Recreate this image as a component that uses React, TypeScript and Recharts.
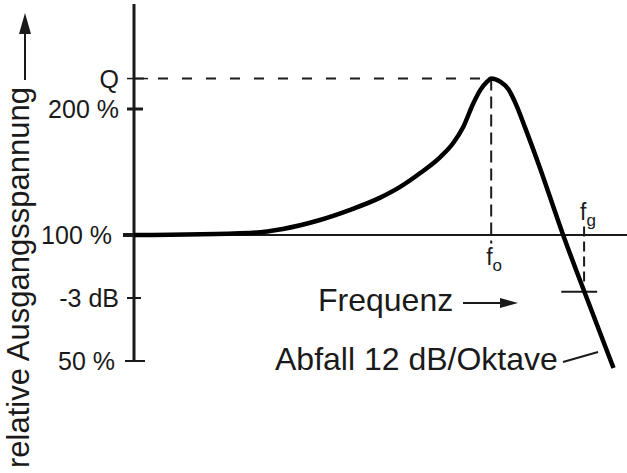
import React from 'react';
import { LineChart, Line, XAxis, YAxis, ReferenceLine } from 'recharts';

// frequency relative to f0 (log axis) and relative output in dB
const freqRatio = [0.1, 0.211, 0.261, 0.326, 0.403, 0.489, 0.556, 0.633, 0.72, 0.783, 0.835, 0.89, 0.932, 0.974, 1.0, 1.06, 1.116, 1.175, 1.245, 1.363, 1.59, 1.82, 2.2];
const gainDb = [0, 0.1, 0.29, 0.68, 1.2, 1.78, 2.29, 2.95, 3.71, 4.38, 5.14, 6.25, 6.9, 7.3, 7.45, 7.3, 6.95, 6.2, 5.1, 3.29, 0, -2.67, -6.33];

const tickValues = [7.45, 6, 0, -3, -6];
const tickLabels = ['Q', '200 %', '100 %', '-3 dB', '50 %'];

const qDb = 7.45;
const f0 = 1;
const fg = 1.82;
const fgDb = -2.7;
const fgMarker = [1.571, 1.98];

const data = freqRatio.map((f, i) => ({ f, db: gainDb[i] }));

const FONT = '"Liberation Sans", Arial, sans-serif';
const INK = '#1a1a1a';

// left / right extent, width of each tick mark, and gap to its text
const tickStyle: Record<string, [number, number, number, number]> = {
    'Q': [7, 14, 1.5, 15],
    '200 %': [7, 9, 3, 15],
    '100 %': [11, 0, 4, 22],
    '-3 dB': [7, 7, 2, 15],
    '50 %': [9, 11, 2, 19],
};

const YTick = (props: any) => {
    const { x, y, payload } = props;
    const label = tickLabels[tickValues.indexOf(payload.value)];
    const [l, r, w, gap] = tickStyle[label] || [7, 7, 2, 15];
    return (
        <g>
            <line x1={x - l} x2={x + r} y1={y} y2={y} stroke={INK} strokeWidth={w} />
            <text x={x - gap} y={y} dy="0.36em" textAnchor="end" fontSize={25} fontFamily={FONT} fill={INK}>
                {label}
            </text>
        </g>
    );
};

const SubLabel = (main: string, sub: string, dx: number, dy: number, below: boolean) => (props: any) => {
    const vb = props.viewBox || {};
    const bx = vb.x + dx;
    const by = below ? vb.y + vb.height + dy : vb.y + dy;
    return (
        <text x={bx} y={by} fontFamily={FONT} fill={INK} fontSize={23}>
            {main}
            <tspan fontSize={17} dy={6}>{sub}</tspan>
        </text>
    );
};

const App: React.FC = () => {
    return (
        <div style={{ position: 'absolute', left: 0, top: 0, background: '#fff' }}>
            <LineChart width={627} height={473} data={data} margin={{ top: 4, right: 0, left: 0, bottom: 101.5 }}>
                <XAxis dataKey="f" type="number" scale="log" domain={[0.1, 2.4]} allowDataOverflow hide height={0} />
                <YAxis
                    type="number"
                    domain={[-6.5, 11]}
                    allowDataOverflow
                    ticks={tickValues}
                    width={134}
                    axisLine={false}
                    tickLine={false}
                    tickSize={0}
                    tickMargin={0}
                    tick={<YTick />}
                    interval={0}
                />
                {/* vertical axis, stops at the 50 % mark */}
                <ReferenceLine segment={[{ x: 0.1, y: -6 }, { x: 0.1, y: 11 }]} stroke={INK} strokeWidth={3} />
                {/* 100 % line */}
                <ReferenceLine y={0} stroke={INK} strokeWidth={2} />
                <ReferenceLine segment={[{ x: 0.1, y: qDb }, { x: f0, y: qDb }]} stroke={INK} strokeWidth={2} strokeDasharray="10 14" />
                <ReferenceLine
                    segment={[{ x: f0, y: qDb }, { x: f0, y: -0.4 }]}
                    stroke={INK}
                    strokeWidth={2}
                    strokeDasharray="12 6"
                    label={{ content: SubLabel('f', 'o', -5, 22, true) }}
                />
                <ReferenceLine
                    segment={[{ x: fg, y: 0.4 }, { x: fg, y: fgDb }]}
                    stroke={INK}
                    strokeWidth={2}
                    strokeDasharray="10 5"
                    label={{ content: SubLabel('f', 'g', -4, -7, false) }}
                />
                <ReferenceLine segment={[{ x: fgMarker[0], y: fgDb }, { x: fgMarker[1], y: fgDb }]} stroke={INK} strokeWidth={2} />
                <Line
                    type="monotone"
                    dataKey="db"
                    stroke="#000"
                    strokeWidth={4.5}
                    dot={false}
                    activeDot={false}
                    isAnimationActive={false}
                />
                <g fontFamily={FONT} fill={INK}>
                    <text transform="translate(29,468) rotate(-90)" fontSize={31} textAnchor="start">
                        relative Ausgangsspannung
                    </text>
                    <line x1={25} x2={25} y1={80} y2={32} stroke={INK} strokeWidth={2} />
                    <polygon points="19,34 31,34 25,13" fill={INK} />
                    <text x={318} y={311} fontSize={32}>Frequenz</text>
                    <line x1={463} x2={502} y1={303} y2={303} stroke={INK} strokeWidth={2} />
                    <polygon points="500,298 518,303 500,308" fill={INK} />
                    <text x={275} y={370} fontSize={32}>Abfall 12 dB/Oktave</text>
                    <line x1={563} x2={598} y1={362} y2={352} stroke={INK} strokeWidth={2} />
                </g>
            </LineChart>
        </div>
    );
};

export default App;
